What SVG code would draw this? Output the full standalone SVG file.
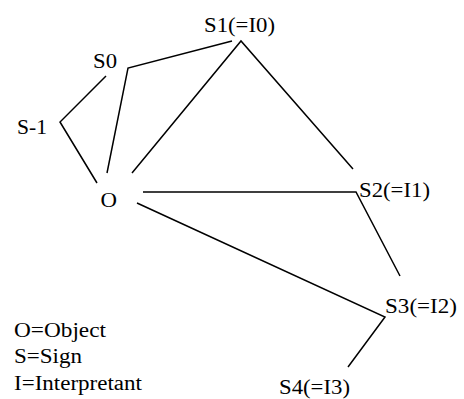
<svg xmlns="http://www.w3.org/2000/svg" width="464" height="399" viewBox="0 0 464 399">
<style>
text{font-family:"Liberation Serif","Times New Roman",serif;fill:#000}
.n{font-size:22px}
.l{font-size:20px}
.c{fill:none;stroke:#000;stroke-width:1.5}
</style>
<rect width="464" height="399" fill="#fff"/>
<g id="connectors" class="c">
<polyline points="106,76 60,122 97,183"/>
<polyline points="232,41 128,68 107,173"/>
<polyline points="132,173 241,41 353,169"/>
<polyline points="143,192 356,192 400,276"/>
<polyline points="137,203 385,317 348,367"/>
</g>
<g id="S-1"><text class="n" x="17" y="134" textLength="30" lengthAdjust="spacingAndGlyphs">S-1</text></g>
<g id="S0"><text class="n" x="93" y="68" textLength="24" lengthAdjust="spacingAndGlyphs">S0</text></g>
<g id="S1"><text class="n" x="204" y="31.5" textLength="71" lengthAdjust="spacingAndGlyphs">S1(=I0)</text></g>
<g id="O"><text class="n" x="100.5" y="206.5" textLength="16.5" lengthAdjust="spacingAndGlyphs">O</text></g>
<g id="S2"><text class="n" x="359" y="196.5" textLength="71" lengthAdjust="spacingAndGlyphs">S2(=I1)</text></g>
<g id="S3"><text class="n" x="385" y="313" textLength="72" lengthAdjust="spacingAndGlyphs">S3(=I2)</text></g>
<g id="S4"><text class="n" x="279" y="393.5" textLength="71" lengthAdjust="spacingAndGlyphs">S4(=I3)</text></g>
<g id="legend">
<text class="l" x="14" y="337" textLength="92" lengthAdjust="spacingAndGlyphs">O=Object</text>
<text class="l" x="14" y="363" textLength="68" lengthAdjust="spacingAndGlyphs">S=Sign</text>
<text class="l" x="14" y="390" textLength="128" lengthAdjust="spacingAndGlyphs">I=Interpretant</text>
</g>
</svg>
